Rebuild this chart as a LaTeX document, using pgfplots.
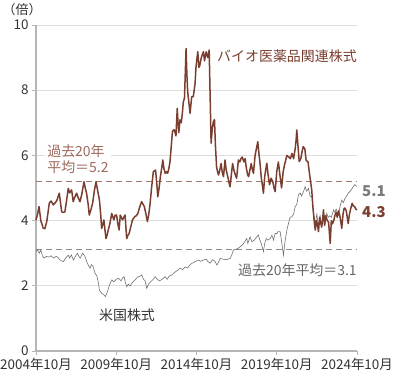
\documentclass[border=0pt]{standalone}
\usepackage{pgfplots}
\pgfplotsset{compat=1.18}
\usepackage{fontspec}
\setmainfont{Noto Sans CJK JP}
\definecolor{bio}{HTML}{7A3E30}
\definecolor{biolight}{HTML}{9C6A5C}
\definecolor{biodash}{HTML}{A07A70}
\definecolor{usline}{HTML}{707070}
\definecolor{usdash}{HTML}{8A8A8A}
\definecolor{ustext}{HTML}{666666}
\definecolor{ticktext}{HTML}{333333}
\definecolor{gridc}{HTML}{DDDDDD}
\definecolor{axisc}{HTML}{B5B5B5}
\begin{document}
\begin{tikzpicture}
\useasboundingbox (-36bp,-26bp) rectangle (359bp,351bp);
\begin{axis}[
  at={(0,0)}, anchor=south west,
  scale only axis, width=321bp, height=326bp,
  xmin=2004.75, xmax=2024.75, ymin=0, ymax=10,
  clip=false,
  axis lines=left,
  axis line style={-, draw=axisc, line width=1.2bp},
  xtick={2004.75,2009.75,2014.75,2019.75,2024.75},
  xticklabels={2004年10月,2009年10月,2014年10月,2019年10月,2024年10月},
  ytick={0,2,4,6,8,10},
  tick align=outside,
  xtick style={draw=axisc, line width=0.8bp},
  ytick style={draw=axisc, line width=0.8bp},
  major tick length=4bp,
  ymajorgrids, grid style={draw=gridc, line width=0.8bp},
  ticklabel style={font=\fontsize{13.5}{15}\selectfont, text=ticktext},
  /pgf/number format/assume math mode=true,
]
\addplot[draw=biodash, dashed, dash pattern=on 6bp off 4bp, line width=1bp] coordinates {(2004.75,5.2) (2024.75,5.2)};
\addplot[draw=usdash, dashed, dash pattern=on 6bp off 4bp, line width=1bp] coordinates {(2004.75,3.1) (2024.75,3.1)};
\addplot[draw=usline, line width=0.6bp] table {
2004.75 3.05
2004.85 3.1
2004.95 3.0
2005.05 3.1
2005.15 2.92
2005.25 2.85
2005.4 2.9
2005.55 2.88
2005.7 2.92
2005.85 2.85
2006.0 2.9
2006.1 2.88
2006.25 2.79
2006.45 2.74
2006.6 2.85
2006.76 2.94
2006.85 2.85
2006.95 2.95
2007.08 2.79
2007.2 2.9
2007.33 3.0
2007.42 2.9
2007.5 2.85
2007.66 3.0
2007.8 2.9
2007.95 2.69
2008.05 2.6
2008.12 2.54
2008.2 2.65
2008.3 2.6
2008.43 2.38
2008.55 2.3
2008.65 2.05
2008.7 1.87
2008.84 1.77
2008.99 1.72
2009.07 1.67
2009.15 1.75
2009.25 1.9
2009.32 2.02
2009.47 2.18
2009.6 2.12
2009.75 2.2
2009.9 2.23
2010.05 2.15
2010.15 2.25
2010.24 2.28
2010.32 2.1
2010.4 1.97
2010.5 2.05
2010.62 2.0
2010.75 2.1
2010.92 2.18
2011.05 2.25
2011.13 2.28
2011.25 2.3
2011.34 2.33
2011.45 2.2
2011.55 2.15
2011.65 1.92
2011.75 2.05
2011.85 2.1
2011.95 2.15
2012.05 2.2
2012.17 2.28
2012.3 2.2
2012.45 2.15
2012.6 2.2
2012.8 2.28
2012.92 2.2
2013.05 2.3
2013.2 2.33
2013.35 2.4
2013.5 2.45
2013.73 2.54
2013.9 2.5
2014.04 2.58
2014.2 2.55
2014.35 2.65
2014.5 2.7
2014.66 2.74
2014.87 2.79
2015.0 2.75
2015.18 2.79
2015.35 2.82
2015.45 2.75
2015.6 2.69
2015.75 2.8
2015.9 2.75
2016.02 2.64
2016.12 2.72
2016.22 2.84
2016.4 2.82
2016.6 2.8
2016.84 2.84
2016.95 2.95
2017.05 3.1
2017.2 3.12
2017.35 3.15
2017.47 3.2
2017.6 3.25
2017.75 3.35
2017.88 3.45
2017.95 3.3
2018.09 3.5
2018.2 3.35
2018.35 3.4
2018.5 3.5
2018.6 3.56
2018.7 3.4
2018.78 3.3
2018.92 3.05
2019.0 3.3
2019.1 3.45
2019.2 3.4
2019.34 3.45
2019.45 3.55
2019.55 3.4
2019.65 3.61
2019.75 3.6
2019.82 3.66
2019.96 3.66
2020.07 3.3
2020.17 2.94
2020.25 3.3
2020.38 3.71
2020.48 3.91
2020.58 4.1
2020.69 4.12
2020.8 4.2
2020.9 4.43
2021.0 4.5
2021.1 4.79
2021.2 4.85
2021.3 4.75
2021.42 4.89
2021.52 5.04
2021.62 4.9
2021.73 4.99
2021.83 4.75
2021.94 4.73
2022.04 4.22
2022.15 3.91
2022.25 4.2
2022.35 3.81
2022.45 4.15
2022.55 3.85
2022.65 4.2
2022.75 3.9
2022.87 4.22
2022.95 4.1
2023.05 4.15
2023.15 4.1
2023.29 4.33
2023.38 4.25
2023.45 4.35
2023.6 4.17
2023.7 4.45
2023.8 4.63
2023.9 4.55
2024.0 4.68
2024.1 4.75
2024.2 4.84
2024.32 4.9
2024.45 4.99
2024.6 5.1
2024.75 5.05
};
\addplot[draw=bio, line width=1.5bp, line join=round] table {
2004.75 4.02
2004.85 4.2
2004.94 4.43
2005.05 4.0
2005.2 3.77
2005.3 3.75
2005.42 3.97
2005.58 4.54
2005.7 4.6
2005.83 4.48
2005.95 4.55
2006.05 4.62
2006.2 4.84
2006.35 4.27
2006.45 4.25
2006.55 4.27
2006.65 4.6
2006.76 4.99
2006.85 4.85
2006.97 4.94
2007.07 4.58
2007.15 4.7
2007.28 4.84
2007.38 4.7
2007.49 4.58
2007.6 4.8
2007.74 5.19
2007.82 5.0
2007.9 4.84
2008.0 4.5
2008.07 4.17
2008.18 4.35
2008.28 4.54
2008.38 4.9
2008.49 5.19
2008.6 4.9
2008.7 4.64
2008.78 4.2
2008.84 3.76
2008.92 3.9
2008.98 4.02
2009.05 3.7
2009.11 3.45
2009.18 3.55
2009.25 3.71
2009.35 3.9
2009.47 4.22
2009.55 4.1
2009.6 4.02
2009.68 4.17
2009.77 4.17
2009.85 3.9
2009.93 3.71
2010.0 4.17
2010.14 4.02
2010.22 4.1
2010.3 4.17
2010.4 3.45
2010.48 3.55
2010.55 3.6
2010.65 3.8
2010.76 4.02
2010.9 4.12
2011.0 4.15
2011.1 4.22
2011.2 4.4
2011.33 4.58
2011.42 4.5
2011.5 4.43
2011.6 4.2
2011.69 3.97
2011.78 4.2
2011.86 4.53
2011.95 5.0
2012.06 5.5
2012.2 5.55
2012.28 5.1
2012.34 4.73
2012.42 5.0
2012.5 5.35
2012.58 5.6
2012.65 5.86
2012.72 5.6
2012.8 5.45
2012.88 5.5
2012.95 5.45
2013.03 5.6
2013.1 5.81
2013.18 6.3
2013.25 6.73
2013.32 6.78
2013.37 6.78
2013.47 6.6
2013.55 7.44
2013.6 7.0
2013.65 6.7
2013.72 7.09
2013.8 7.0
2013.87 7.3
2013.93 7.65
2014.0 7.75
2014.05 8.5
2014.1 9.28
2014.15 8.5
2014.2 7.95
2014.28 7.6
2014.35 7.29
2014.45 7.8
2014.55 7.8
2014.66 8.2
2014.72 8.72
2014.83 9.18
2014.9 8.7
2014.95 8.75
2015.05 9.0
2015.12 9.1
2015.18 9.18
2015.25 8.9
2015.35 9.18
2015.45 9.0
2015.54 9.23
2015.6 7.8
2015.66 6.37
2015.73 6.8
2015.8 7.03
2015.87 7.1
2015.93 6.3
2016.0 5.65
2016.06 5.5
2016.12 5.4
2016.2 5.55
2016.28 5.75
2016.35 5.5
2016.43 5.35
2016.53 5.86
2016.6 5.55
2016.7 5.35
2016.76 5.2
2016.84 5.04
2016.92 5.4
2017.0 5.75
2017.08 5.55
2017.17 5.4
2017.25 5.3
2017.36 5.86
2017.45 5.8
2017.52 5.9
2017.6 5.95
2017.7 5.8
2017.78 5.9
2017.86 5.6
2017.94 5.4
2018.0 5.35
2018.08 5.55
2018.16 5.75
2018.24 5.55
2018.3 5.45
2018.4 6.0
2018.48 6.2
2018.57 6.42
2018.65 6.0
2018.7 5.8
2018.78 5.35
2018.85 5.1
2018.92 4.84
2019.0 5.35
2019.06 5.55
2019.13 5.76
2019.2 5.45
2019.3 5.1
2019.4 5.3
2019.5 5.2
2019.58 5.0
2019.65 4.89
2019.75 5.5
2019.85 5.8
2019.96 5.35
2020.05 5.0
2020.15 5.5
2020.23 5.7
2020.38 6.0
2020.5 5.95
2020.6 5.9
2020.7 6.06
2020.8 5.9
2020.9 6.21
2020.96 6.5
2021.0 6.78
2021.07 6.3
2021.15 5.81
2021.25 5.9
2021.32 6.1
2021.4 6.27
2021.5 6.2
2021.58 5.85
2021.7 5.8
2021.8 5.4
2021.93 4.94
2022.0 4.43
2022.08 4.0
2022.15 3.71
2022.22 4.0
2022.28 3.9
2022.35 3.66
2022.42 4.1
2022.5 3.9
2022.55 3.8
2022.62 4.1
2022.66 4.33
2022.73 3.85
2022.8 4.15
2022.9 4.0
2022.98 3.95
2023.08 3.3
2023.15 4.0
2023.22 3.9
2023.3 4.0
2023.38 4.17
2023.45 4.25
2023.52 4.1
2023.6 4.3
2023.7 4.1
2023.8 3.76
2023.88 4.2
2023.95 4.38
2024.0 4.38
2024.08 4.3
2024.2 3.91
2024.28 4.2
2024.35 4.35
2024.45 4.53
2024.52 4.45
2024.6 4.43
2024.68 4.35
2024.75 4.33
};
\node[anchor=center, text=ticktext, font=\fontsize{13}{15}\selectfont] at (axis cs:2003.88,10.46) {（倍）};
\node[anchor=west, text=bio, font=\fontsize{14}{16}\selectfont, inner sep=0pt] at (axis cs:2016.03,9.05) {バイオ医薬品関連株式};
\node[anchor=west, text=biolight, fill=white, align=left, inner sep=2bp, font=\fontsize{14}{16}\selectfont] at (axis cs:2005.32,5.89) {過去20年\\平均＝5.2};
\node[anchor=center, text=ustext, font=\fontsize{14}{16}\selectfont] at (axis cs:2021.04,2.48) {過去20年平均＝3.1};
\node[anchor=center, text=ticktext, font=\fontsize{14}{16}\selectfont] at (axis cs:2010.42,1.10) {米国株式};
\node[anchor=west, text=ustext!120!black, font=\fontsize{15}{17}\selectfont\bfseries, inner sep=0pt] at (axis cs:2025.06,4.91) {5.1};
\node[anchor=west, text=bio, font=\fontsize{15}{17}\selectfont\bfseries, inner sep=0pt] at (axis cs:2025.06,4.26) {4.3};
\end{axis}
\end{tikzpicture}
\end{document}
